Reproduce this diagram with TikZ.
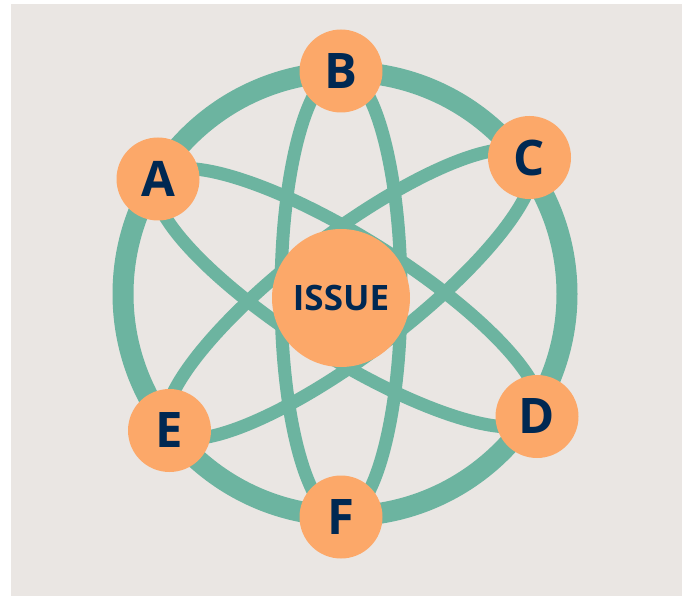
\documentclass[tikz,border=0pt]{standalone}
\usepackage{fontspec}
\usepackage{xcolor}
\usepackage{tikz}
\usetikzlibrary{calc}
\newfontfamily\issuefont{Open Sans}
\definecolor{PaperGray}{HTML}{EAE6E3}
\definecolor{LinkGreen}{HTML}{6CB4A0}
\definecolor{DotOrange}{HTML}{FCA869}
\definecolor{InkNavy}{HTML}{002852}
\pgfdeclarelayer{paper}
\pgfdeclarelayer{links}
\pgfsetlayers{paper,links,main}
\tikzset{
    link/.style={draw=LinkGreen, line width=13pt},
    ring/.style={draw=LinkGreen, line width=21pt}
}

\begin{document}
\begin{tikzpicture}[
        x=1pt, y=-1pt,
        % --- STYLE CHUNG ---
        dot/.style={
            circle,
            fill=DotOrange,
            text=InkNavy,
            inner sep=0pt
        },
        % Nut chu cai
        letter_node/.style={
            dot,
            minimum size=83pt,
            font=\issuefont\bfseries\fontsize{49}{49}\selectfont
        },
        % Nut giua
        issue_node/.style={
            dot,
            minimum size=138pt,
            font=\issuefont\bfseries\fontsize{35}{35}\selectfont
        }
    ]
        \useasboundingbox (0,0) rectangle (688,596);

        % --- NEN XAM ---
        \begin{pgfonlayer}{paper}
            \fill[PaperGray] (11,4) rectangle (682,596);
        \end{pgfonlayer}

        % --- CAC NUT ---
        \node[issue_node] (issue) at (341,298) {ISSUE};
        \node[letter_node] (A) at (158,179) {A};
        \node[letter_node] (B) at (341,71) {B};
        \node[letter_node] (C) at (529.5,157.5) {C};
        \node[letter_node] (D) at (537,416.5) {D};
        \node[letter_node] (E) at (169.5,430.5) {E};
        \node[letter_node] (F) at (341,517) {F};
        \coordinate (hub) at (345,294);

        % --- VONG NGOAI VA CAC ELIP ---
        \begin{pgfonlayer}{links}
            \draw[ring] (hub) circle [radius=222pt];
            \foreach \from/\to in {A/D, C/E, B/F} {
                \draw[link]
                    let \p1 = ($(\to)-(\from)$),
                        \n1 = {atan2(\y1,\x1)},
                        \n2 = {veclen(\x1,\y1)/2}
                    in ($(\from)!0.5!(\to)$) coordinate (mid)
                    [rotate around={\n1:(mid)}]
                    (mid) ellipse [x radius=\n2, y radius=60pt];
            }
        \end{pgfonlayer}

    \end{tikzpicture}
\end{document}
